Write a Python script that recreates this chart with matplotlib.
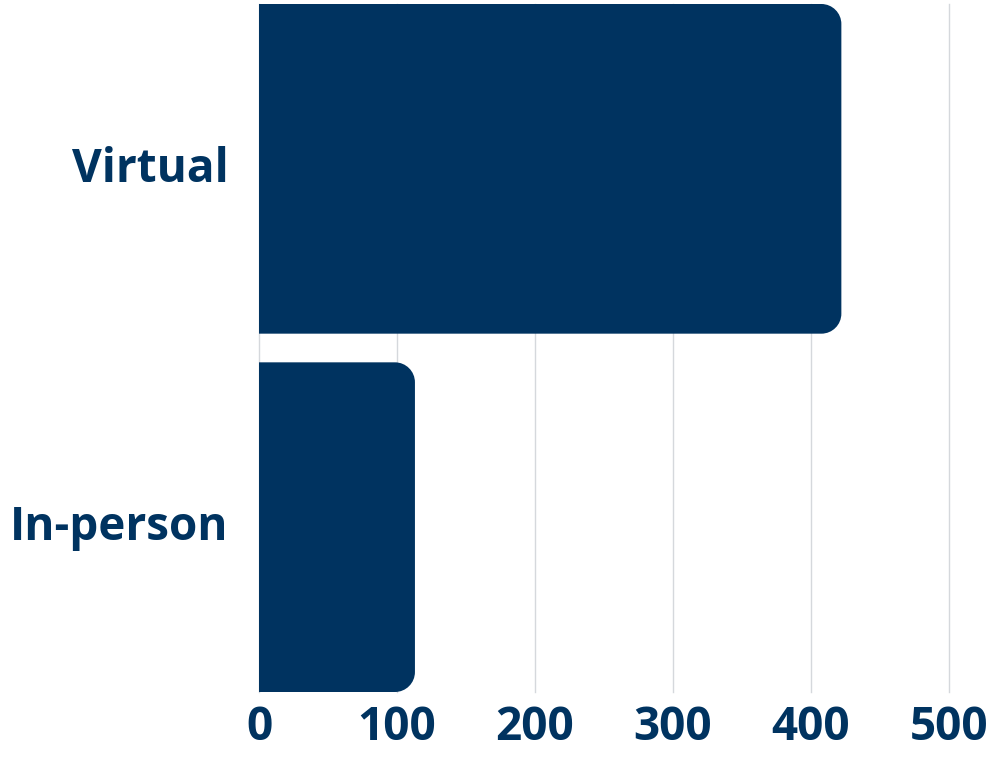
import matplotlib.pyplot as plt
import numpy as np
import matplotlib.transforms as mtransforms
from matplotlib.path import Path
from matplotlib.patches import PathPatch

categories = ['Virtual', 'In-person']
values = [422, 113]
xticks = [0, 100, 200, 300, 400, 500]

navy = '#003360'
plt.rcParams['font.family'] = ['Open Sans', 'DejaVu Sans']
plt.rcParams['font.weight'] = 'bold'

fig = plt.figure(figsize=(9.99, 7.57), dpi=100)
ax = fig.add_axes([259 / 999, 65 / 757, 690 / 999, 688 / 757])
ax.set_xlim(0, 500)
ax.set_ylim(1.46, -0.46)

bar_h = 0.92
# corner radius in px, converted to data units
rx = 20 * 500 / 690
ry = 20 * (1.92) / 688
k = 0.5523


def rounded_bar(x0, y0, w, h):
    x1 = x0 + w
    y1 = y0 + h
    verts = [
        (x0, y0),
        (x1 - rx, y0),
        (x1 - rx + k * rx, y0), (x1, y0 + ry - k * ry), (x1, y0 + ry),
        (x1, y1 - ry),
        (x1, y1 - ry + k * ry), (x1 - rx + k * rx, y1), (x1 - rx, y1),
        (x0, y1),
        (x0, y0),
    ]
    codes = [Path.MOVETO, Path.LINETO,
             Path.CURVE4, Path.CURVE4, Path.CURVE4,
             Path.LINETO,
             Path.CURVE4, Path.CURVE4, Path.CURVE4,
             Path.LINETO, Path.CLOSEPOLY]
    return Path(verts, codes)


for i, v in enumerate(values):
    p = rounded_bar(0, i - bar_h / 2, v, bar_h)
    ax.add_patch(PathPatch(p, facecolor=navy, edgecolor='none', zorder=3))

for t in xticks:
    ax.axvline(t, color='#d5d8dc', lw=1, zorder=1, clip_on=False)

for s in ax.spines.values():
    s.set_visible(False)

ax.set_yticks(range(len(categories)))
ax.set_yticklabels(categories, fontsize=33, fontweight='bold', color=navy)
ax.set_xticks(xticks)
ax.set_xticklabels([str(t) for t in xticks], fontsize=33, fontweight='bold', color=navy)
ax.tick_params(axis='both', length=0)
ax.tick_params(axis='y', pad=22)
ax.tick_params(axis='x', pad=9)

# nudge category labels up a little
up = mtransforms.ScaledTranslation(0, 5 / 100, fig.dpi_scale_trans)
for lbl in ax.get_yticklabels():
    lbl.set_transform(lbl.get_transform() + up)

fig.savefig('out.png', dpi=100)
